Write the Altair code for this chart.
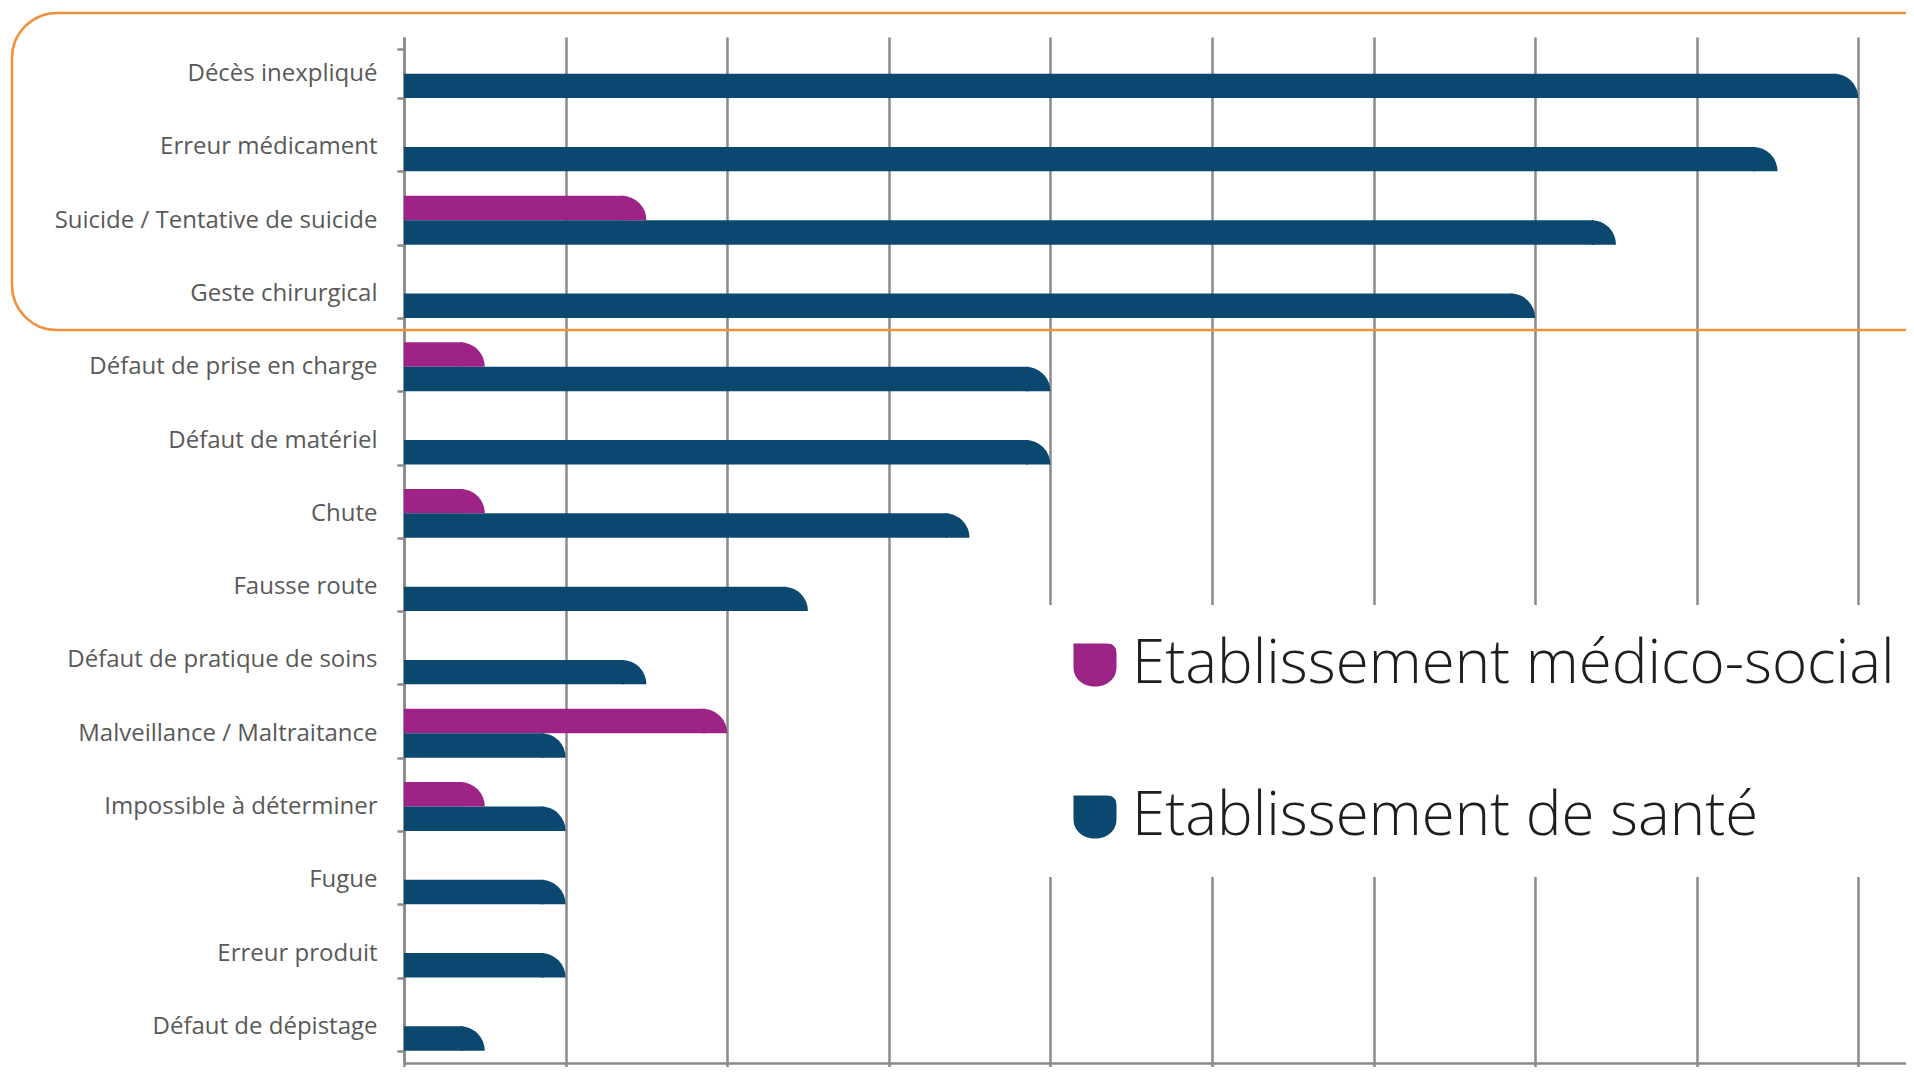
import math
import altair as alt
import pandas as pd

categories = [
    "Décès inexpliqué",
    "Erreur médicament",
    "Suicide / Tentative de suicide",
    "Geste chirurgical",
    "Défaut de prise en charge",
    "Défaut de matériel",
    "Chute",
    "Fausse route",
    "Défaut de pratique de soins",
    "Malveillance / Maltraitance",
    "Impossible à déterminer",
    "Fugue",
    "Erreur produit",
    "Défaut de dépistage",
]
sante = [18, 17, 15, 14, 8, 8, 7, 5, 3, 2, 2, 2, 2, 1]
medico = [0, 0, 3, 0, 1, 0, 1, 0, 0, 4, 1, 0, 0, 0]
series = ["Etablissement médico-social", "Etablissement de santé"]
colors = ["#9E2387", "#0B4870"]
x_ticks = [0, 2, 4, 6, 8, 10, 12, 14, 16, 18]

rows = []
for c, m, s in zip(categories, medico, sante):
    rows.append({"category": c, "series": series[0], "value": m})
    rows.append({"category": c, "series": series[1], "value": s})
df = pd.DataFrame(rows)
df = df[df["value"] > 0]

W, H = 1502, 1026
XMAX = 18.59
GRID = "#8a8a8a"
PX_PER_UNIT = W / XMAX
# bar thickness in px (band step * 2/3 / 2) and the same length in data units,
# used for the rounded (quarter-circle) end of each bar
BAR_PX = H / len(categories) * (2 / 3) / 2
R_UNITS = BAR_PX / PX_PER_UNIT
OVERLAP = 2.5 / PX_PER_UNIT

bar_symbol = "M-1,-1 L0.55,-1 Q1,-1 1,-0.55 L1,0.1 C1,0.65 0.55,1 0,1 C-0.55,1 -1,0.65 -1,0.1 Z"

x_scale = alt.Scale(domain=[0, XMAX], nice=False, zero=True)
y_scale = alt.Scale(domain=categories, paddingInner=1 / 3, paddingOuter=1 / 6)

base = alt.Chart(df).transform_calculate(
    xr=f"datum.value - {R_UNITS}",
    xb=f"datum.value - {R_UNITS} + {OVERLAP}",
)

bars = base.mark_bar().encode(
    x=alt.X(
        "xb:Q",
        scale=x_scale,
        axis=alt.Axis(
            values=x_ticks,
            labels=False,
            title=None,
            grid=True,
            gridColor=GRID,
            gridWidth=2.5,
            domainColor=GRID,
            domainWidth=2.5,
            tickColor=GRID,
            tickWidth=2.5,
            tickSize=5,
        ),
    ),
    y=alt.Y(
        "category:N",
        sort=categories,
        scale=y_scale,
        axis=alt.Axis(
            title=None,
            tickBand="extent",
            labelFont="Open Sans",
            labelFontSize=24,
            labelColor="#595959",
            labelPadding=20,
            labelLimit=400,
            tickSize=7,
            tickColor=GRID,
            tickWidth=2.5,
            domainColor=GRID,
            domainWidth=2.5,
            grid=False,
        ),
    ),
    yOffset=alt.YOffset("series:N", sort=series, scale=alt.Scale(domain=series)),
    color=alt.Color(
        "series:N",
        sort=series,
        scale=alt.Scale(domain=series, range=colors),
        legend=alt.Legend(
            title=None,
            orient="none",
            legendX=631,
            legendY=568,
            direction="vertical",
            fillColor="white",
            padding=30,
            symbolType=bar_symbol,
            symbolSize=1849,
            symbolStrokeWidth=0,
            symbolOpacity=1,
            labelFont="Open Sans",
            labelFontSize=60,
            labelFontWeight=300,
            labelColor="#1e1e1e",
            labelOffset=7,
            labelLimit=1200,
            rowPadding=92,
        ),
    ),
)

# rounded ends: quarter discs whose centre sits on each bar's lower edge
ends = []
for s, col, band_pos in zip(series, colors, [0.5, 1.0]):
    ends.append(
        base.transform_filter(alt.datum.series == s)
        .mark_arc(radius=BAR_PX, theta=0, theta2=math.pi / 2, color=col)
        .encode(
            x=alt.X("xr:Q", scale=x_scale),
            y=alt.Y("category:N", sort=categories, scale=y_scale, bandPosition=band_pos),
        )
    )

box = alt.Chart(pd.DataFrame({"k": [0]})).mark_rect(
    fill="transparent",
    stroke="#F0913F",
    strokeWidth=2.5,
    cornerRadius=45,
    clip=False,
).encode(
    x=alt.value(-392),
    x2=alt.value(1600),
    y=alt.value(-24),
    y2=alt.value(293),
)

chart = alt.layer(bars, *ends, box).properties(
    width=W,
    height=H,
    autosize=alt.AutoSizeParams(type="none"),
    padding={"left": 396, "top": 29, "right": 0, "bottom": 4},
    background="white",
).configure_view(stroke=None)

chart.save("out.html", embed_options={"renderer": "svg", "actions": False})
